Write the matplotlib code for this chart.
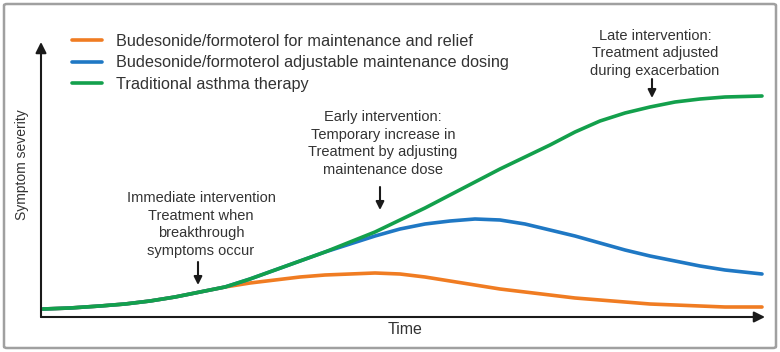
import matplotlib.pyplot as plt
from matplotlib.patches import FancyBboxPatch

# time (arbitrary units) and symptom severity
t_green = [2, 29, 59, 84, 109, 134, 159, 184, 209, 234, 259, 284, 309, 334, 359, 384, 409, 434, 459,
           484, 509, 534, 559, 584, 609, 634, 659, 684, 721]
s_green = [8, 9, 11, 13, 16, 20, 25, 30, 38, 47, 56, 65, 75, 85, 97, 109, 122, 135, 148,
           160, 172, 185, 196, 204, 210, 215, 218, 220, 221]

t_blue = [2, 29, 59, 84, 109, 134, 159, 184, 209, 234, 259, 284, 309, 334, 359, 384, 409, 434, 459,
          484, 509, 534, 559, 584, 609, 634, 659, 684, 721]
s_blue = [8, 9, 11, 13, 16, 20, 25, 30, 38, 47, 56, 65, 73, 81, 88, 93, 96, 98, 97,
          93, 87, 81, 74, 67, 61, 56, 51, 47, 43]

t_orange = [2, 29, 59, 84, 109, 134, 159, 184, 209, 234, 259, 284, 309, 334, 359, 384, 409, 434, 459,
            484, 509, 534, 559, 584, 609, 634, 659, 684, 721]
s_orange = [8, 9, 11, 13, 16, 20, 25, 30, 34, 37, 40, 42, 43, 44, 43, 40, 36, 32, 28,
            25, 22, 19, 17, 15, 13, 12, 11, 10, 10]

labels = ["Budesonide/formoterol for maintenance and relief",
          "Budesonide/formoterol adjustable maintenance dosing",
          "Traditional asthma therapy"]
colors = ["#f07c22", "#1f78c4", "#13a04c"]

notes = ["Immediate intervention\nTreatment when\nbreakthrough\nsymptoms occur",
         "Early intervention:\nTemporary increase in\nTreatment by adjusting\nmaintenance dose",
         "Late intervention:\nTreatment adjusted\nduring exacerbation"]
note_t = [157, 339, 611]
note_tip = [32, 107, 219]   # where each arrow points (severity)

plt.rcParams['font.family'] = ['Liberation Sans', 'DejaVu Sans']
txt = "#333333"

W, H = 780, 352
fig = plt.figure(figsize=(W / 100, H / 100), dpi=100)
x0, x1, y0, y1 = 41, 765, 317, 42
ax = fig.add_axes([x0 / W, 1 - y0 / H, (x1 - x0) / W, (y0 - y1) / H])
ax.set_xlim(0, x1 - x0)
ax.set_ylim(0, y0 - y1)
ax.axis('off')

fig.patches.append(FancyBboxPatch((4 / W, 4 / H), 772 / W, 344 / H, boxstyle="round,pad=0,rounding_size=0.004",
                                  transform=fig.transFigure, fill=False, ec="#a0a0a0", lw=1.8))

ax.plot(t_orange, s_orange, color=colors[0], lw=2.6, label=labels[0], solid_capstyle='round')
ax.plot(t_blue, s_blue, color=colors[1], lw=2.6, label=labels[1], solid_capstyle='round')
ax.plot(t_green, s_green, color=colors[2], lw=2.6, label=labels[2], solid_capstyle='round')

# axes with arrow heads
arr = dict(arrowstyle='-|>', color='#1a1a1a', lw=1.5, mutation_scale=16, shrinkA=0, shrinkB=0)
ax.annotate('', xy=(0, 1), xytext=(0, 0), xycoords='axes fraction', arrowprops=arr)
ax.annotate('', xy=(1, 0), xytext=(0, 0), xycoords='axes fraction', arrowprops=arr)

ax.text(364, -13, "Time", ha='center', va='center', fontsize=11.5, color=txt)
ax.text(-19, 152, "Symptom severity", rotation=90, ha='center', va='center', fontsize=10, color=txt)

small = dict(arrowstyle='-|>', color='#1a1a1a', lw=1.5, mutation_scale=12, shrinkA=0, shrinkB=0)
lens = [23, 23, 19]
gaps = [27, 33, 20]
for n, t, s, L, g in zip(notes, note_t, note_tip, lens, gaps):
    ax.annotate('', xy=(t, s), xytext=(t, s + L), arrowprops=small)
    ax.text(t + 3, s + g, n, ha='center', va='bottom', fontsize=10.5, color=txt, linespacing=1.32)

fig.legend(loc='upper left', bbox_to_anchor=(72 / W, 1 - 34 / H), frameon=False, fontsize=11.7,
           handlelength=1.87, handletextpad=0.83, labelspacing=0.4, borderpad=0, borderaxespad=0,
           labelcolor=txt)

fig.savefig("out.png", dpi=100)
